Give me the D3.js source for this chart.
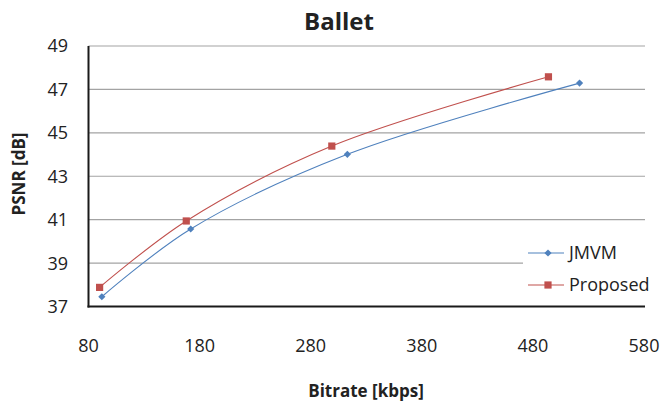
<!DOCTYPE html>
<html>
<head>
<meta charset="utf-8">
<script src="https://cdn.jsdelivr.net/npm/d3@7/dist/d3.min.js"></script>
<style>
  html, body { margin: 0; padding: 0; background: #fff; }
  svg { display: block; }
  text { font-family: "Open Sans", "Noto Sans", sans-serif; fill: #222; }
</style>
</head>
<body>
<svg id="chart" width="662" height="407"></svg>
<script>
// Rate-distortion data for the Ballet sequence
const seriesNames = ["JMVM", "Proposed"];
const jmvmBitrate = [92, 172, 313, 522];
const jmvmPsnr = [37.45, 40.57, 44.01, 47.29];
const proposedBitrate = [90, 168, 299, 494];
const proposedPsnr = [37.88, 40.94, 44.39, 47.58];
const xTicks = [80, 180, 280, 380, 480, 580];
const yTicks = [37, 39, 41, 43, 45, 47, 49];

const svg = d3.select("#chart");
const m = { left: 88.5, right: 644, top: 46, bottom: 306.5 };

const x = d3.scaleLinear().domain([80, 580]).range([m.left, m.right]);
const y = d3.scaleLinear().domain([37, 49]).range([m.bottom, m.top]);

const series = [
  { name: seriesNames[0], color: "#4f81bd", marker: "diamond",
    pts: jmvmBitrate.map((b, i) => [b, jmvmPsnr[i]]) },
  { name: seriesNames[1], color: "#c0504d", marker: "square",
    pts: proposedBitrate.map((b, i) => [b, proposedPsnr[i]]) }
];

// horizontal gridlines
svg.append("g").selectAll("line").data(yTicks.filter(t => t > 37)).join("line")
  .attr("x1", m.left).attr("x2", m.right + 1)
  .attr("y1", d => y(d)).attr("y2", d => y(d))
  .attr("stroke", "#a3a3a3").attr("stroke-width", 1.2);

// y tick labels
svg.append("g").selectAll("text").data(yTicks).join("text")
  .attr("x", 68).attr("y", d => y(d)).attr("dy", "0.36em")
  .attr("text-anchor", "end").style("font-size", "18px").text(d => d);

// x tick labels
svg.append("g").selectAll("text").data(xTicks).join("text")
  .attr("x", d => x(d)).attr("y", 352)
  .attr("text-anchor", "middle").style("font-size", "18px").text(d => d);

// series lines and markers
const line = d3.line().x(d => x(d[0])).y(d => y(d[1])).curve(d3.curveCatmullRom.alpha(0.5));
const diamondPath = "M0,-3.6L3.6,0L0,3.6L-3.6,0Z";
const symSquare = d3.symbol().type(d3.symbolSquare).size(52);
const markerPath = s => s.marker === "diamond" ? diamondPath : symSquare();

series.forEach(s => {
  svg.append("path").datum(s.pts).attr("d", line)
    .attr("fill", "none").attr("stroke", s.color).attr("stroke-width", 1.1);
  svg.append("g").selectAll("path").data(s.pts).join("path")
    .attr("transform", d => `translate(${x(d[0])},${y(d[1])})`)
    .attr("d", markerPath(s))
    .attr("fill", s.color);
});

// legend
const leg = svg.append("g");
leg.append("rect").attr("x", 523).attr("y", 236).attr("width", 122).attr("height", 68).attr("fill", "#fff");
series.forEach((s, i) => {
  const ly = 253 + i * 32;
  leg.append("line").attr("x1", 528).attr("x2", 564).attr("y1", ly).attr("y2", ly)
    .attr("stroke", s.color).attr("stroke-width", 1.1);
  leg.append("path").attr("transform", `translate(548,${ly})`)
    .attr("d", markerPath(s)).attr("fill", s.color);
  leg.append("text").attr("x", 569).attr("y", ly).attr("dy", "0.36em")
    .style("font-size", "18px").text(s.name);
});

// axes lines
svg.append("line").attr("x1", m.left).attr("x2", m.left).attr("y1", m.top).attr("y2", m.bottom + 1)
  .attr("stroke", "#1a1a1a").attr("stroke-width", 2);
svg.append("line").attr("x1", m.left - 1).attr("x2", m.right + 1).attr("y1", m.bottom).attr("y2", m.bottom)
  .attr("stroke", "#1a1a1a").attr("stroke-width", 2);

// titles
svg.append("text").attr("x", 339).attr("y", 30).attr("text-anchor", "middle")
  .style("font-size", "24px").style("font-weight", "bold").text("Ballet");
svg.append("text").attr("x", 366).attr("y", 397).attr("text-anchor", "middle")
  .style("font-size", "17px").style("font-weight", "bold").text("Bitrate [kbps]");
svg.append("text").attr("transform", "translate(25,174) rotate(-90)").attr("text-anchor", "middle")
  .style("font-size", "17px").style("font-weight", "bold").text("PSNR [dB]");
</script>
</body>
</html>
